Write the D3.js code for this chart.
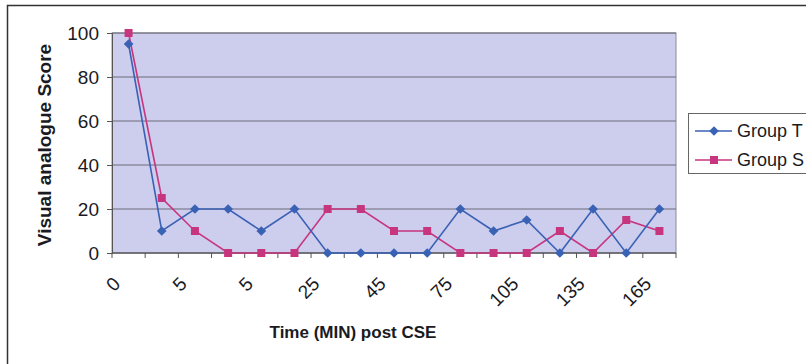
<!DOCTYPE html>
<html><head><meta charset="utf-8">
<script src="https://cdn.jsdelivr.net/npm/d3@7/dist/d3.min.js"></script>
<style>body{margin:0;background:#fff}svg{display:block}</style>
</head><body>
<svg id="c" width="806" height="364"></svg>
<script>
const categories = ["0","1","5","10","5","15","25","35","45","60","75","90","105","120","135","150","165"];
const shownLabelEvery = 2;
const groupT = [95,10,20,20,10,20,0,0,0,0,20,10,15,0,20,0,20];
const groupS = [100,25,10,0,0,0,20,20,10,10,0,0,0,10,0,15,10];
const yTicks = [0,20,40,60,80,100];
const seriesNames = ["Group T","Group S"];

const svg = d3.select("#c");
const font = "Liberation Sans, Arial, sans-serif";
const m = {l:112, r:676, t:33, b:253};

// outer frame
svg.append("rect").attr("x",7.5).attr("y",5.5).attr("width",820).attr("height",380)
  .attr("fill","#fff").attr("stroke","#333").attr("stroke-width",1.5);

const x = d3.scaleBand().domain(d3.range(categories.length)).range([m.l,m.r]);
const y = d3.scaleLinear().domain([0,100]).range([m.b,m.t]);

svg.append("rect").attr("x",m.l).attr("y",m.t).attr("width",m.r-m.l).attr("height",m.b-m.t)
  .attr("fill","#cdcdee").attr("stroke","#8a8a9a").attr("stroke-width",1);

// gridlines
svg.append("g").selectAll("line").data(yTicks).join("line")
  .attr("x1",m.l).attr("x2",m.r).attr("y1",d=>y(d)).attr("y2",d=>y(d))
  .attr("stroke","#6a6a78").attr("stroke-width",1);

// y axis
const ya = svg.append("g").attr("transform",`translate(${m.l},0)`)
  .call(d3.axisLeft(y).tickValues(yTicks).tickSize(5).tickPadding(8));
ya.select(".domain").attr("stroke","#555");
ya.selectAll(".tick line").attr("stroke","#555");
ya.selectAll("text").attr("font-family",font).attr("font-size",19).attr("fill","#1a1a22");

// x axis
const xa = svg.append("g").attr("transform",`translate(0,${m.b})`);
xa.append("line").attr("x1",m.l).attr("x2",m.r).attr("stroke","#555");
const bounds = d3.range(categories.length+1).map(i=> i<categories.length ? x(i) : m.r);
xa.selectAll("line.t").data(bounds).join("line").attr("class","t")
  .attr("x1",d=>d).attr("x2",d=>d).attr("y1",0).attr("y2",5).attr("stroke","#555");
xa.selectAll("text").data(categories.map((c,i)=>({c,i})).filter(d=>d.i%shownLabelEvery===0)).join("text")
  .attr("font-family",font).attr("font-size",19).attr("fill","#1a1a22")
  .attr("text-anchor","end")
  .attr("transform",d=>`translate(${x(d.i)+x.bandwidth()/2-7},${32}) rotate(-45)`)
  .text(d=>d.c);

const cx = i => x(i)+x.bandwidth()/2;
const line = d3.line().x((d,i)=>cx(i)).y(d=>y(d));
const colT = "#3a62b4", colS = "#c8357f";

svg.append("path").datum(groupS).attr("d",line).attr("fill","none").attr("stroke",colS).attr("stroke-width",1.6);
svg.append("path").datum(groupT).attr("d",line).attr("fill","none").attr("stroke",colT).attr("stroke-width",1.6);
svg.append("g").selectAll("rect").data(groupS).join("rect")
  .attr("x",(d,i)=>cx(i)-4).attr("y",d=>y(d)-4).attr("width",8).attr("height",8).attr("fill",colS);
svg.append("g").selectAll("path").data(groupT).join("path")
  .attr("d",d3.symbol().type(d3.symbolDiamond2).size(60))
  .attr("transform",(d,i)=>`translate(${cx(i)},${y(d)})`).attr("fill",colT);

// axis titles
svg.append("text").attr("x",353).attr("y",338).attr("text-anchor","middle")
  .attr("font-family",font).attr("font-weight","bold").attr("font-size",17).attr("fill","#1a1a22")
  .text("Time (MIN) post CSE");
svg.append("text").attr("transform",`translate(51,145) rotate(-90)`).attr("text-anchor","middle")
  .attr("font-family",font).attr("font-weight","bold").attr("font-size",19).attr("fill","#1a1a22")
  .text("Visual analogue Score");

// legend
const lg = svg.append("g");
lg.append("rect").attr("x",688.5).attr("y",113.5).attr("width",140).attr("height",60)
  .attr("fill","#fff").attr("stroke","#666");
const cols=[colT,colS];
seriesNames.forEach((n,k)=>{
  const yy = 131 + k*29;
  lg.append("line").attr("x1",695).attr("x2",732).attr("y1",yy).attr("y2",yy).attr("stroke",cols[k]).attr("stroke-width",1.6);
  if(k===0) lg.append("path").attr("d",d3.symbol().type(d3.symbolDiamond2).size(60)).attr("transform",`translate(714,${yy})`).attr("fill",cols[k]);
  else lg.append("rect").attr("x",710).attr("y",yy-4).attr("width",8).attr("height",8).attr("fill",cols[k]);
  lg.append("text").attr("x",737).attr("y",yy+6).attr("font-family",font).attr("font-size",18).attr("fill","#1a1a22").text(n);
});
</script>
</body></html>
